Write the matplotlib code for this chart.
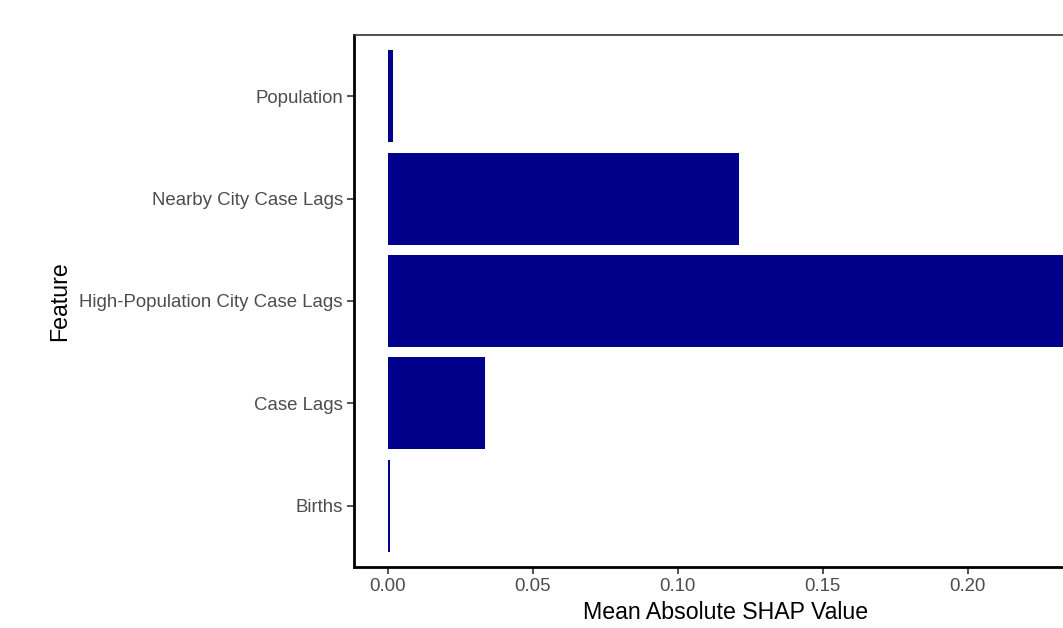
"""Horizontal bar chart of mean absolute SHAP value per feature group."""

import matplotlib

matplotlib.use("Agg")
import matplotlib.pyplot as plt

plt.rcParams["font.family"] = ["Liberation Sans", "DejaVu Sans"]

# Feature groups, bottom to top, and their mean |SHAP|
features = [
    "Births",
    "Case Lags",
    "High-Population City Case Lags",
    "Nearby City Case Lags",
    "Population",
]
mean_abs_shap = [0.0007, 0.0334, 0.233, 0.121, 0.0018]
x_ticks = [0.00, 0.05, 0.10, 0.15, 0.20]

W, H = 1063, 628
fig = plt.figure(figsize=(W / 100, H / 100), dpi=100)

# panel runs off the right edge of the figure
left, right, top, bottom = 354, 1097, 35, 567
ax = fig.add_axes([left / W, 1 - bottom / H, (right - left) / W, (bottom - top) / H])

pos = list(range(len(features)))
ax.barh(pos, mean_abs_shap, height=0.9, color="#00008B")

# 5% padding either side, like ggplot's default continuous expansion
xmax = max(mean_abs_shap)
ax.set_xlim(-0.05 * xmax, 1.05 * xmax)
ax.set_ylim(-0.6, len(features) - 1 + 0.6)
ax.set_yticks(pos)
ax.set_yticklabels(features)
ax.set_xticks(x_ticks)
ax.set_xticklabels([f"{t:.2f}" for t in x_ticks])

ax.tick_params(axis="both", colors="#333333", labelcolor="#4D4D4D",
               labelsize=13.4, length=5, width=1.2, pad=3)

for side in ("left", "bottom"):
    ax.spines[side].set_linewidth(2)
    ax.spines[side].set_color("black")
ax.spines["top"].set_linewidth(1.2)
ax.spines["top"].set_color("#333333")
ax.spines["right"].set_visible(False)

ax.set_xlabel("Mean Absolute SHAP Value", fontsize=16.7, labelpad=4)
ax.set_ylabel("Feature", fontsize=16.7, labelpad=6)

fig.savefig("out.png", dpi=100)
